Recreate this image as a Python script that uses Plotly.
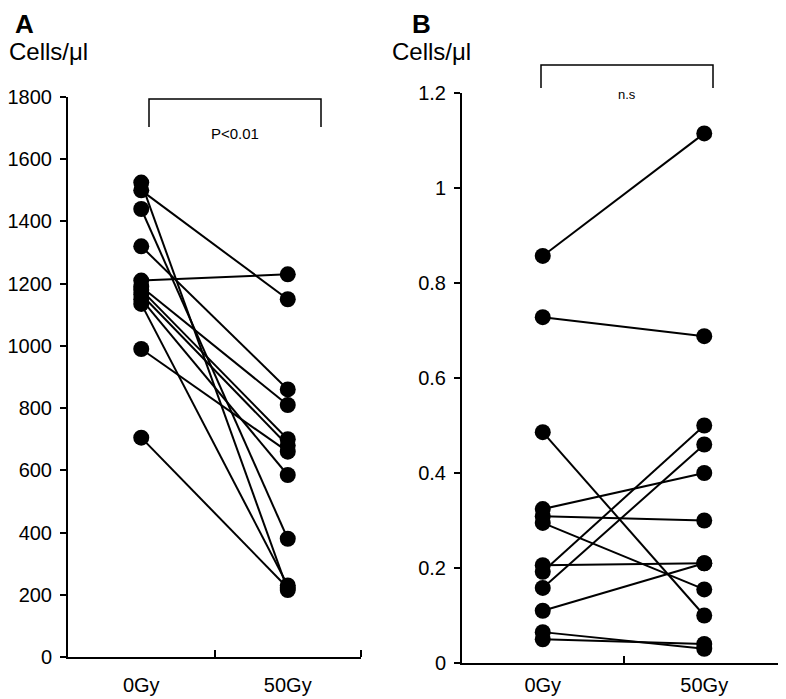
import plotly.graph_objects as go

# ---- data ----
groups = ["0Gy", "50Gy"]
group_pos = [0.5, 1.5]

a_pre = [1525, 1500, 1440, 1320, 1210, 1190, 1180, 1165, 1150, 1135, 990, 705]
a_post = [215, 1150, 380, 860, 1230, 810, 700, 680, 585, 230, 660, 222]

b_pre = [0.857, 0.728, 0.486, 0.324, 0.309, 0.295, 0.206, 0.192, 0.158, 0.11, 0.065, 0.05]
b_post = [1.115, 0.688, 0.10, 0.40, 0.30, 0.155, 0.21, 0.50, 0.46, 0.21, 0.03, 0.04]

a_ticks = [0, 200, 400, 600, 800, 1000, 1200, 1400, 1600, 1800]
b_ticks = [0, 0.2, 0.4, 0.6, 0.8, 1, 1.2]
b_ticktext = ["0", "0.2", "0.4", "0.6", "0.8", "1", "1.2"]

# page body has an 8px margin; lay out in target-window pixels
OFF = 8
W, H = 786 - OFF, 699 - OFF
FONT = "Liberation Sans, Arial, Helvetica, sans-serif"

fig = go.Figure()

for pre, post in zip(a_pre, a_post):
    fig.add_trace(go.Scatter(
        x=group_pos, y=[pre, post], mode="lines+markers",
        line=dict(color="black", width=2),
        marker=dict(color="black", size=16),
        xaxis="x", yaxis="y", showlegend=False, cliponaxis=False))

for pre, post in zip(b_pre, b_post):
    fig.add_trace(go.Scatter(
        x=group_pos, y=[pre, post], mode="lines+markers",
        line=dict(color="black", width=2),
        marker=dict(color="black", size=16),
        xaxis="x2", yaxis="y2", showlegend=False, cliponaxis=False))


def px(x):
    return (x - OFF) / W


def py(y):
    return 1 - (y - OFF) / H


def xaxis_style(standoff):
    return dict(
        range=[0, 2], showline=True, linecolor="black", linewidth=2,
        tickvals=group_pos, ticktext=groups, ticks="", showgrid=False,
        zeroline=False, tickfont=dict(size=20, color="black", family=FONT),
        ticklabelstandoff=standoff, automargin=False,
        minor=dict(tickvals=[1, 2], ticks="inside", ticklen=7,
                   tickcolor="black", tickwidth=2, showgrid=False),
    )


common_y = dict(
    showline=True, linecolor="black", linewidth=2, ticks="outside",
    ticklen=6, tickwidth=2, tickcolor="black", showgrid=False,
    zeroline=False, tickfont=dict(size=20, color="black", family=FONT),
    ticklabelstandoff=4, automargin=False,
)

fig.update_layout(
    width=W, height=H, margin=dict(l=0, r=0, t=0, b=0, autoexpand=False),
    paper_bgcolor="white", plot_bgcolor="white",
    font=dict(family=FONT, color="black"),
    xaxis=dict(domain=[px(68), px(361)], anchor="y", **xaxis_style(9)),
    yaxis=dict(domain=[py(657), py(97)], anchor="x", range=[0, 1800],
               tickvals=a_ticks, **common_y),
    xaxis2=dict(domain=[px(462), min(1, px(785))], anchor="y2",
                **xaxis_style(3)),
    yaxis2=dict(domain=[py(663), py(93)], anchor="x2", range=[0, 1.2],
                tickvals=b_ticks, ticktext=b_ticktext, **common_y),
)

annots = [
    dict(text="<b>A</b>", x=px(14), y=py(24), size=26, xanchor="left"),
    dict(text="<b>B</b>", x=px(411), y=py(24), size=26, xanchor="left"),
    dict(text="Cells/μl", x=px(8), y=py(51), size=24, xanchor="left"),
    dict(text="Cells/μl", x=px(391), y=py(51), size=24, xanchor="left"),
    dict(text="P<0.01", x=px(235), y=py(133), size=15, xanchor="center"),
    dict(text="n.s", x=px(627), y=py(95), size=13, xanchor="center"),
]
for a in annots:
    fig.add_annotation(text=a["text"], x=a["x"], y=a["y"], xref="paper",
                       yref="paper", showarrow=False, xanchor=a["xanchor"],
                       yanchor="middle", borderpad=0,
                       font=dict(size=a["size"], color="black", family=FONT))

for (x0, x1, yt, yb) in [(149, 321, 99, 127), (541, 713, 65, 88)]:
    fig.add_shape(type="path", xref="paper", yref="paper",
                  path=f"M {px(x0)} {py(yb)} L {px(x0)} {py(yt)} L {px(x1)} {py(yt)} L {px(x1)} {py(yb)}",
                  line=dict(color="black", width=1.5))

fig.write_html("out.html")
